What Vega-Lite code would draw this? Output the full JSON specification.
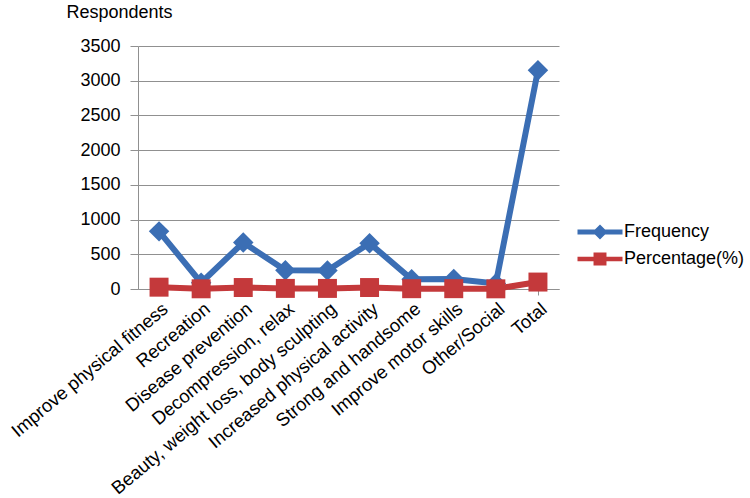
{
  "$schema": "https://vega.github.io/schema/vega-lite/v6.json",
  "autosize": {"type": "none"},
  "width": 421,
  "height": 243,
  "padding": {"left": 138, "top": 46, "right": 750, "bottom": 498},
  "background": "white",
  "config": {
    "view": {"stroke": null},
    "font": "Liberation Sans",
    "axis": {"labelFont": "Liberation Sans", "titleFont": "Liberation Sans", "labelColor": "#000000", "titleColor": "#000000"}
  },
  "data": {
    "values": [
      {"Reason": "Improve physical fitness", "order": 1, "Frequency": 830, "Percentage(%)": 26.3},
      {"Reason": "Recreation", "order": 2, "Frequency": 90, "Percentage(%)": 2.9},
      {"Reason": "Disease prevention", "order": 3, "Frequency": 670, "Percentage(%)": 21.3},
      {"Reason": "Decompression, relax", "order": 4, "Frequency": 270, "Percentage(%)": 8.6},
      {"Reason": "Beauty, weight loss, body sculpting", "order": 5, "Frequency": 265, "Percentage(%)": 8.4},
      {"Reason": "Increased physical activity", "order": 6, "Frequency": 660, "Percentage(%)": 21.0},
      {"Reason": "Strong and handsome", "order": 7, "Frequency": 140, "Percentage(%)": 4.4},
      {"Reason": "Improve motor skills", "order": 8, "Frequency": 145, "Percentage(%)": 4.6},
      {"Reason": "Other/Social", "order": 9, "Frequency": 80, "Percentage(%)": 2.5},
      {"Reason": "Total", "order": 10, "Frequency": 3150, "Percentage(%)": 100}
    ]
  },
  "transform": [
    {"fold": ["Frequency", "Percentage(%)"], "as": ["Series", "Value"]}
  ],
  "encoding": {
    "x": {
      "field": "Reason",
      "type": "nominal",
      "sort": {"field": "order"},
      "scale": {"paddingInner": 0, "paddingOuter": 0},
      "axis": {
        "title": null,
        "labelAngle": -40,
        "labelFontSize": 18.5,
        "labelPadding": 4,
        "labelLimit": 400,
        "tickSize": 6,
        "tickColor": "#909090",
        "domainColor": "#909090",
        "bandPosition": 0,
        "grid": false
      }
    },
    "y": {
      "field": "Value",
      "type": "quantitative",
      "scale": {"domain": [0, 3500]},
      "axis": {
        "values": [0, 500, 1000, 1500, 2000, 2500, 3000, 3500],
        "format": "d",
        "title": "Respondents",
        "titleAngle": 0,
        "titleAlign": "left",
        "titleBaseline": "middle",
        "titleX": -72,
        "titleY": -34,
        "titleFontSize": 18,
        "titleFontWeight": "normal",
        "labelFontSize": 18,
        "labelPadding": 10,
        "tickSize": 8,
        "tickColor": "#909090",
        "domainColor": "#909090",
        "gridColor": "#909090",
        "grid": true
      }
    },
    "color": {
      "field": "Series",
      "type": "nominal",
      "scale": {"domain": ["Frequency", "Percentage(%)"], "range": ["#3B6EB4", "#C4393B"]},
      "legend": {
        "title": null,
        "orient": "none",
        "legendX": 444,
        "legendY": 168,
        "padding": 0,
        "rowPadding": 0,
        "symbolSize": 1296,
        "labelFontSize": 18,
        "labelFont": "Liberation Sans",
        "labelColor": "#000000",
        "labelOffset": 6,
        "encode": {
          "symbols": {
            "update": {
              "shape": {"signal": "datum.value === 'Frequency' ? 'M-1.25,-0.14H1.25V0.14H-1.25Z M0,-0.42L0.42,0L0,0.42L-0.42,0Z' : 'M-1.25,-0.13H1.25V0.13H-1.25Z M-0.36,-0.36H0.36V0.36H-0.36Z'"},
              "size": {"value": 1296},
              "fill": {"signal": "scale('color', datum.value)"},
              "fillOpacity": {"value": 1},
              "strokeWidth": {"value": 0}
            }
          }
        }
      }
    }
  },
  "layer": [
    {"mark": {"type": "line", "strokeWidth": 6}},
    {
      "transform": [{"filter": "datum.Series === 'Frequency'"}],
      "mark": {"type": "point", "shape": "diamond", "size": 420, "filled": true, "opacity": 1}
    },
    {
      "transform": [{"filter": "datum.Series === 'Percentage(%)'"}],
      "mark": {"type": "point", "shape": "square", "size": 360, "filled": true, "opacity": 1}
    }
  ]
}
